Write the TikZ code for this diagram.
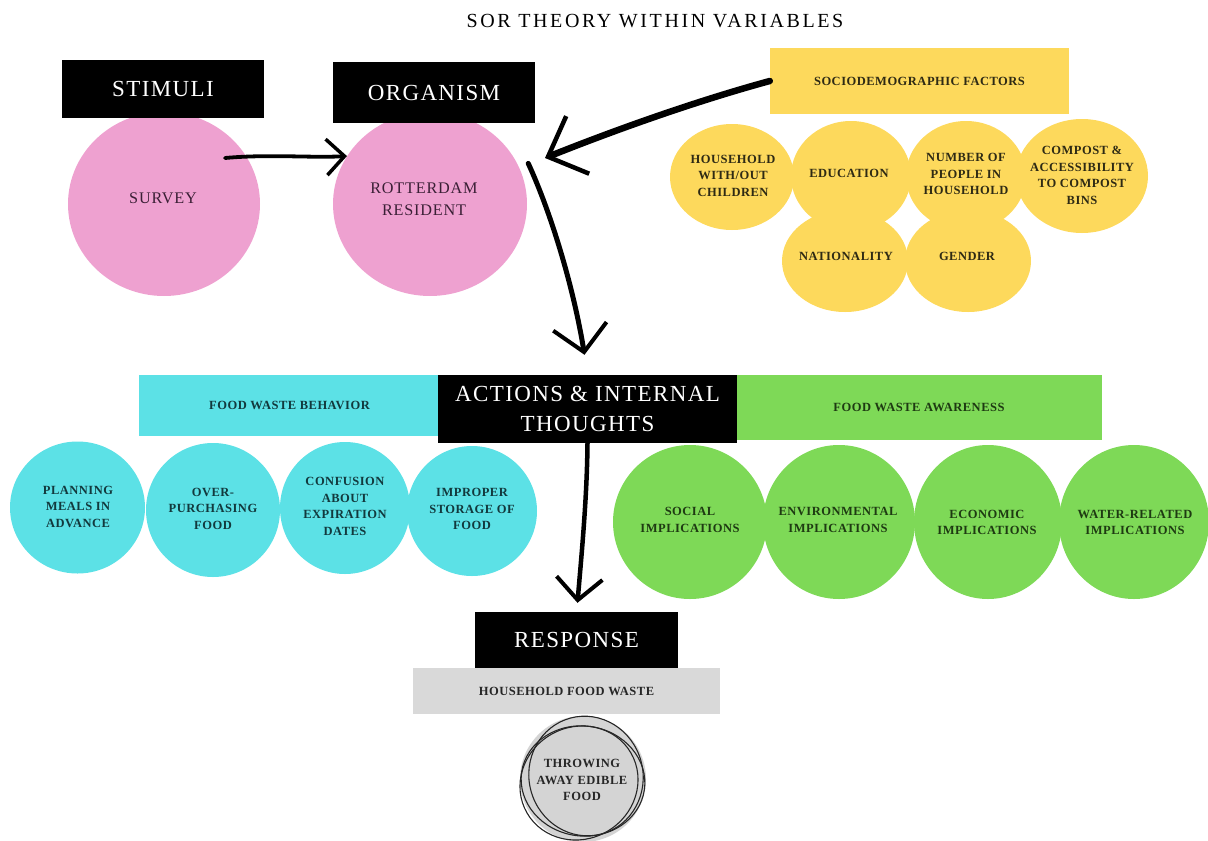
\documentclass[tikz,border=0pt]{standalone}
\usepackage{fontspec}
\setmainfont{Liberation Serif}
\newfontfamily\titlefont[LetterSpace=13]{Liberation Serif}
\newfontfamily\headfont[LetterSpace=6]{Liberation Serif}
\newfontfamily\pinkfont[LetterSpace=5]{Liberation Serif}
\newfontfamily\smallfont[LetterSpace=4]{Liberation Serif}
\usetikzlibrary{shapes.geometric,arrows.meta,calc}
\definecolor{pinkc}{HTML}{EEA1D0}
\definecolor{pinkt}{HTML}{3A1F35}
\definecolor{yelc}{HTML}{FDD95C}
\definecolor{yelt}{HTML}{2E2A14}
\definecolor{cyanc}{HTML}{5CE1E6}
\definecolor{cyant}{HTML}{12393D}
\definecolor{greenc}{HTML}{7ED957}
\definecolor{greent}{HTML}{1E3A12}
\definecolor{grayc}{HTML}{D9D9D9}
\definecolor{grayt}{HTML}{262626}
\definecolor{thrc}{HTML}{D4D4D4}
\begin{document}
\begin{tikzpicture}[x=1pt,y=-1pt,
  titlestyle/.style={inner sep=0pt, font=\titlefont\fontsize{20}{24}\selectfont},
  blackbox/.style={rectangle, fill=black, text=white, inner sep=0pt, align=center,
    font=\headfont\fontsize{23}{30}\selectfont},
  barbox/.style={rectangle, inner sep=0pt, font=\smallfont\bfseries\fontsize{12.5}{16.5}\selectfont},
  blob/.style={ellipse, inner sep=0pt, draw=none},
  lbl/.style={align=center, inner sep=0pt, font=\smallfont\bfseries\fontsize{12.5}{16.5}\selectfont},
  pinklbl/.style={align=center, inner sep=0pt, text=pinkt, font=\pinkfont\fontsize{16.2}{22.5}\selectfont},
  hand/.style={line width=4.5pt, line cap=round, draw=black},
  scrib/.style={draw=black!85, line width=1.1pt}
]
\useasboundingbox (0,0) rectangle (1208,841);

% title
\node[titlestyle] (title) at (655,21) {SOR THEORY WITHIN VARIABLES};

% pink circles
\node[blob, fill=pinkc, minimum width=192, minimum height=184] (survey) at (164,204) {};
\node[blob, fill=pinkc, minimum width=194, minimum height=184] (rot) at (430,204) {};
\node[pinklbl] (tsurvey) at (163,198) {SURVEY};
\node[pinklbl] (trot) at (424,199) {ROTTERDAM\\RESIDENT};

% yellow circles
\node[blob, fill=yelc, minimum width=124, minimum height=106] (hh) at (732,177) {};
\node[blob, fill=yelc, minimum width=120, minimum height=110] (edu) at (851,176) {};
\node[blob, fill=yelc, minimum width=120, minimum height=110] (num) at (966,176) {};
\node[blob, fill=yelc, minimum width=132, minimum height=114] (comp) at (1082,176) {};
\node[blob, fill=yelc, minimum width=126, minimum height=102] (nat) at (845,261) {};
\node[blob, fill=yelc, minimum width=126, minimum height=102] (gen) at (968,261) {};
\node[lbl, text=yelt] (thh) at (733,175.5) {HOUSEHOLD\\WITH/OUT\\CHILDREN};
\node[lbl, text=yelt] (tedu) at (849,173) {EDUCATION};
\node[lbl, text=yelt] (tnum) at (966,174) {NUMBER OF\\PEOPLE IN\\HOUSEHOLD};
\node[lbl, text=yelt] (tcomp) at (1082,175.5) {COMPOST \&\\ACCESSIBILITY\\TO COMPOST\\BINS};
\node[lbl, text=yelt] (tnat) at (846,256) {NATIONALITY};
\node[lbl, text=yelt] (tgen) at (967,256) {GENDER};

% cyan circles
\node[blob, fill=cyanc, minimum width=135, minimum height=132] (plan) at (77.5,507.5) {};
\node[blob, fill=cyanc, minimum width=134, minimum height=134] (over) at (213,510) {};
\node[blob, fill=cyanc, minimum width=130, minimum height=132] (conf) at (345,508) {};
\node[blob, fill=cyanc, minimum width=130, minimum height=130] (impr) at (472,511) {};
\node[lbl, text=cyant] (tplan) at (78,506.5) {PLANNING\\MEALS IN\\ADVANCE};
\node[lbl, text=cyant] (tover) at (213,508.5) {OVER-\\PURCHASING\\FOOD};
\node[lbl, text=cyant] (tconf) at (345,506.5) {CONFUSION\\ABOUT\\EXPIRATION\\DATES};
\node[lbl, text=cyant] (timpr) at (472,509) {IMPROPER\\STORAGE OF\\FOOD};

% green circles
\node[blob, fill=greenc, minimum width=154, minimum height=154] (soc) at (690,522) {};
\node[blob, fill=greenc, minimum width=152, minimum height=154] (env) at (839,522) {};
\node[blob, fill=greenc, minimum width=148, minimum height=154] (eco) at (988,522) {};
\node[blob, fill=greenc, minimum width=150, minimum height=154] (wat) at (1134,522) {};
\node[lbl, text=greent] (tsoc) at (690,520) {SOCIAL\\IMPLICATIONS};
\node[lbl, text=greent] (tenv) at (838,520) {ENVIRONMENTAL\\IMPLICATIONS};
\node[lbl, text=greent] (teco) at (987,522.5) {ECONOMIC\\IMPLICATIONS};
\node[lbl, text=greent] (twat) at (1135,522.5) {WATER-RELATED\\IMPLICATIONS};

% throwing circle
\node[circle, fill=thrc, minimum size=126, inner sep=0pt] (thr) at (583,779) {};
\draw[scrib] ($(thr.center)+(0,2)$) ellipse [x radius=62, y radius=55, rotate=-8];
\draw[scrib] ($(thr.center)+(3,-3)$) ellipse [x radius=57, y radius=60, rotate=15];
\draw[scrib] ($(thr.center)+(-4,4)$) ellipse [x radius=60, y radius=56, rotate=30];
\node[lbl, text=grayt] (tthr) at (582,780) {THROWING\\AWAY EDIBLE\\FOOD};

% boxes
\node[blackbox, minimum width=202, minimum height=58] (stim) at (163,89) {STIMULI};
\node[blackbox, minimum width=202, minimum height=61] (org) at (434,92.5) {ORGANISM};
\node[barbox, fill=yelc, text=yelt, minimum width=299, minimum height=66] (sdf) at (919.5,81) {SOCIODEMOGRAPHIC FACTORS};
\node[barbox, fill=cyanc, text=cyant, minimum width=301, minimum height=61] (fwb) at (289.5,405.5) {FOOD WASTE BEHAVIOR};
\node[barbox, fill=greenc, text=greent, minimum width=366, minimum height=65] (fwa) at (919,407.5) {FOOD WASTE AWARENESS};
\node[blackbox, minimum width=299, minimum height=68] (act) at (587.5,409) {ACTIONS \& INTERNAL\\THOUGHTS};
\node[barbox, fill=grayc, text=grayt, minimum width=307, minimum height=46] (hfw) at (566.5,691) {HOUSEHOLD FOOD WASTE};
\node[blackbox, minimum width=203, minimum height=56] (resp) at (576.5,640) {RESPONSE};

% connectors
\coordinate (s1) at ($(survey.center)+(61,-46)$);
\draw[hand, line width=3.8pt, -{Straight Barb[length=18pt,width=36pt,line width=3.5pt]}]
  (s1) .. controls (270,154) and (310,158) .. (rot.150);
\coordinate (c2) at (545,158);
\draw[hand, line width=6.5pt, -{Straight Barb[length=32pt,width=62pt,line width=4.5pt]}]
  (sdf.west) .. controls (700,100) and (620,128) .. (c2);
\coordinate (r1) at ($(rot.25)+(11,0)$);
\coordinate (c3) at ([xshift=-3pt,yshift=20pt]act.north);
\draw[hand, line width=5pt, -{Straight Barb[length=26pt,width=54pt,line width=4pt]}]
  (r1) .. controls (552,215) and (574,290) .. (c3);
\coordinate (c4) at ([xshift=1pt,yshift=9pt]resp.north);
\draw[hand, -{Straight Barb[length=22pt,width=46pt,line width=4pt]}]
  (act.south) .. controls (587,500) and (581,560) .. (c4);
\end{tikzpicture}
\end{document}
